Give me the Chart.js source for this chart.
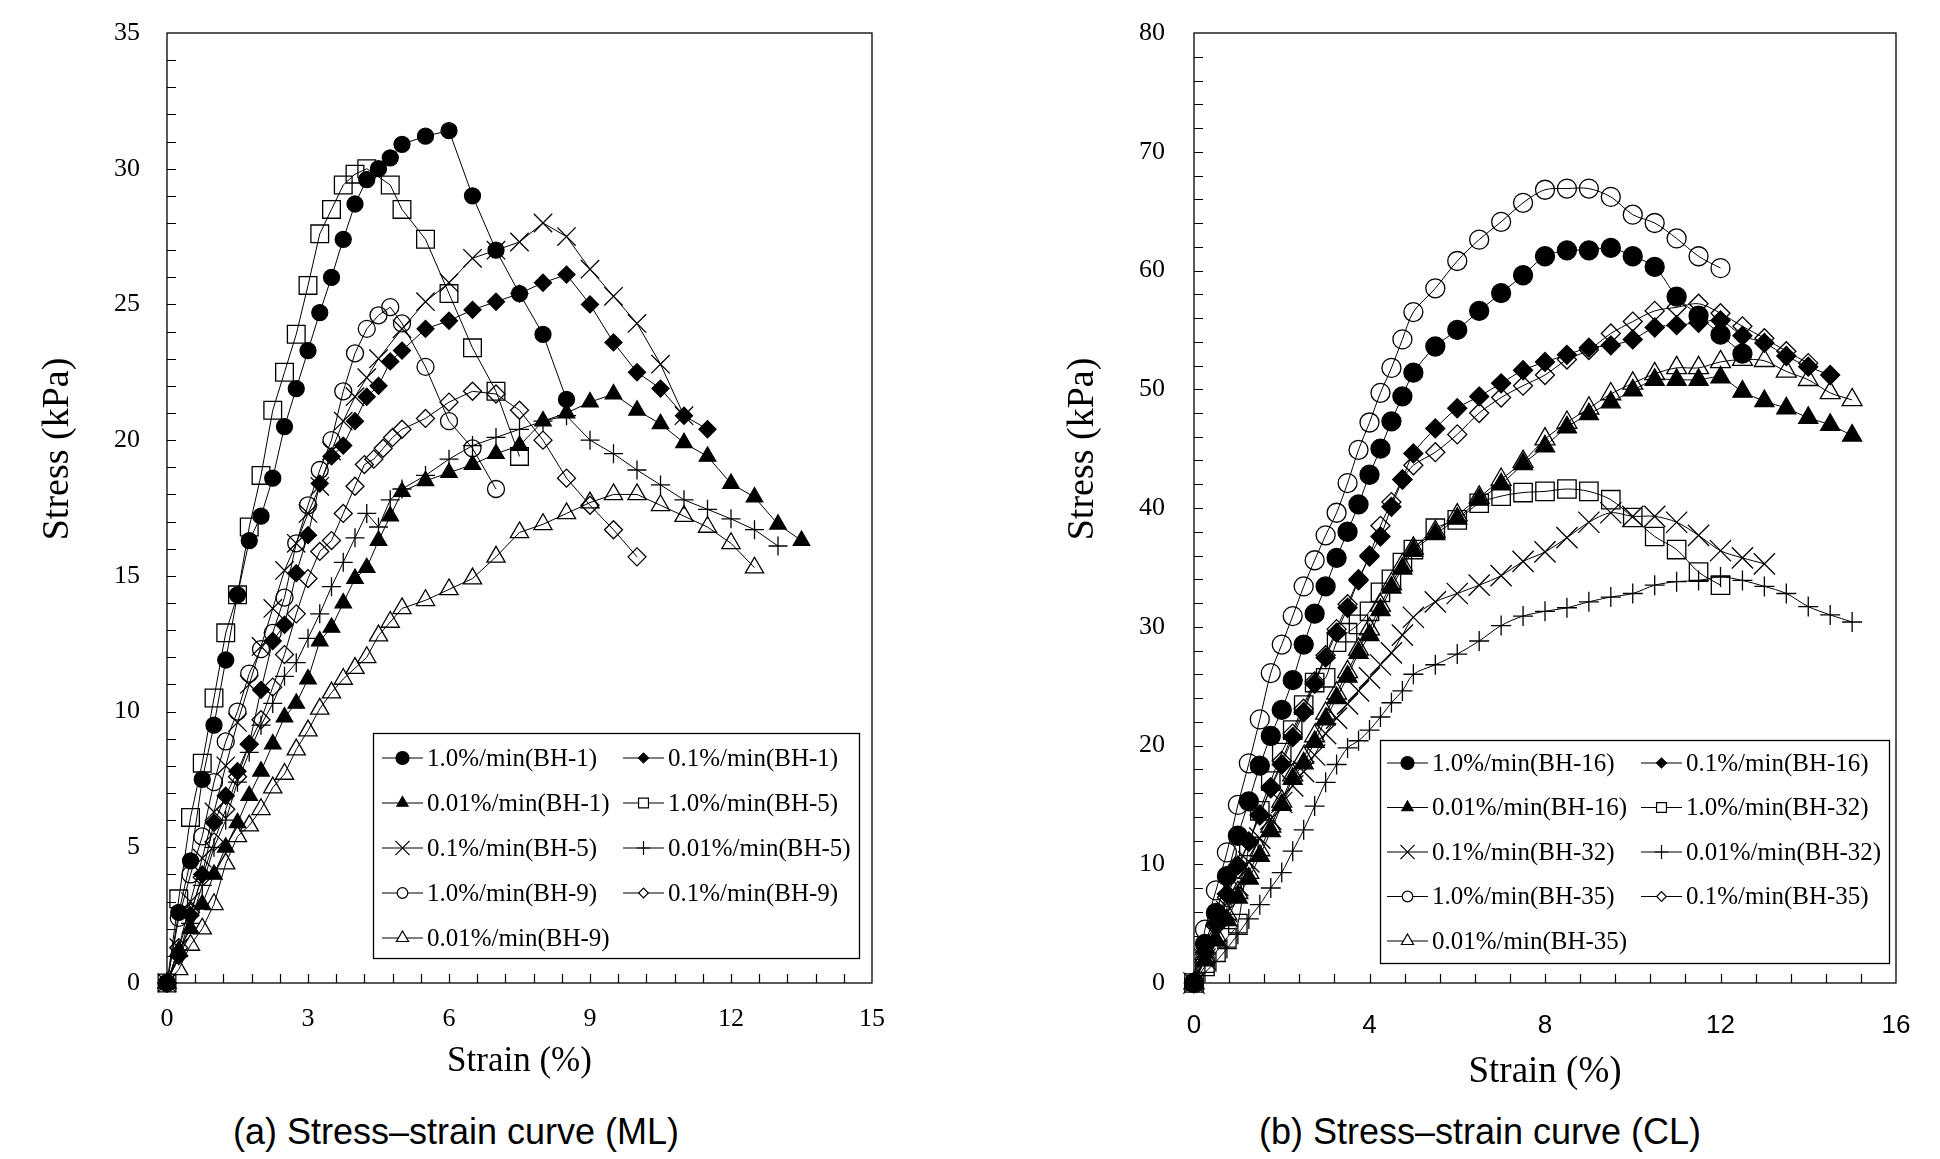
<!DOCTYPE html>
<html lang="en">
<head>
<meta charset="UTF-8">
<title>Stress-strain curves (ML / CL)</title>
<script src="https://cdn.jsdelivr.net/npm/chart.js"></script>
<style>
    body { margin: 0; background: #fff; width: 1940px; height: 1159px; position: relative; overflow: hidden; }
    .panel { position: absolute; top: 0; }
    .caption { position: absolute; top: 1110px; font-family: "Liberation Sans", Arial, sans-serif; font-size: 36px; color: #000; white-space: nowrap; transform: translateX(-50%); line-height: 44px; }
</style>
</head>
<body>
<canvas id="chartML" class="panel" style="left:0" width="970" height="1100"></canvas>
<canvas id="chartCL" class="panel" style="left:970px" width="970" height="1100"></canvas>
<div class="caption" style="left:456px">(a) Stress–strain curve (ML)</div>
<div class="caption" style="left:1480px">(b) Stress–strain curve (CL)</div>
<script>
const SERIF = '"Liberation Serif", "Times New Roman", serif';
const SANS = '"Liberation Sans", Arial, sans-serif';

// ---------- (a) ML : strain (%) / stress (kPa) ----------
const mlNames = ['1.0%/min(BH-1)', '0.1%/min(BH-1)', '0.01%/min(BH-1)', '1.0%/min(BH-5)', '0.1%/min(BH-5)',
                 '0.01%/min(BH-5)', '1.0%/min(BH-9)', '0.1%/min(BH-9)', '0.01%/min(BH-9)'];

const bh1FastX = [0,0.25,0.5,0.75,1,1.25,1.5,1.75,2,2.25,2.5,2.75,3,3.25,3.5,3.75,4,4.25,4.5,4.75,5,5.5,6,6.5,7,7.5,8,8.5];
const bh1FastY = [0,2.6,4.5,7.5,9.5,11.9,14.3,16.3,17.2,18.6,20.5,21.9,23.3,24.7,26.0,27.4,28.7,29.6,30.0,30.4,30.9,31.2,31.4,29.0,27.0,25.4,23.9,21.5];

const bh1MidX = [0,0.25,0.5,0.75,1,1.25,1.5,1.75,2,2.25,2.5,2.75,3,3.25,3.5,3.75,4,4.25,4.5,4.75,5,5.5,6,6.5,7,7.5,8,8.5,9,9.5,10,10.5,11,11.5];
const bh1MidY = [0,1.0,2.5,4.0,5.9,6.9,7.8,8.8,10.8,12.6,13.2,15.1,16.5,18.4,19.4,19.8,20.7,21.6,22.0,22.9,23.3,24.1,24.4,24.8,25.1,25.4,25.8,26.1,25.0,23.6,22.5,21.9,20.9,20.4];

const bh1SlowX = [0,0.25,0.5,0.75,1,1.25,1.5,1.75,2,2.25,2.5,2.75,3,3.25,3.5,3.75,4,4.25,4.5,4.75,5,5.5,6,6.5,7,7.5,8,8.5,9,9.5,10,10.5,11,11.5,12,12.5,13,13.5];
const bh1SlowY = [0,1.2,2.0,2.9,4.0,5.0,5.9,6.9,7.8,8.8,9.8,10.3,11.2,12.6,13.1,14.0,14.9,15.3,16.3,17.2,18.1,18.5,18.8,19.1,19.5,19.8,20.7,21.0,21.4,21.7,21.1,20.6,19.9,19.4,18.4,17.9,16.9,16.3];

const bh5FastX = [0,0.25,0.5,0.75,1,1.25,1.5,1.75,2,2.25,2.5,2.75,3,3.25,3.5,3.75,4,4.25,4.75,5,5.5,6,6.5,7,7.5];
const bh5FastY = [0,3.1,6.1,8.1,10.5,12.9,14.3,16.8,18.7,21.1,22.5,23.9,25.7,27.6,28.5,29.4,29.8,30.0,29.4,28.5,27.4,25.4,23.4,21.8,19.4];

const bh5MidX = [0,0.25,0.5,0.75,1,1.25,1.5,1.75,2,2.25,2.5,2.75,3,3.25,3.5,3.75,4,4.25,4.5,5,5.5,6,6.5,7,7.5,8,8.5,9,9.5,10,10.5,11];
const bh5MidY = [0,1.3,3.0,4.6,6.3,8.0,9.6,11.0,12.4,13.8,15.2,16.2,17.3,18.3,19.6,20.7,21.6,22.3,23.0,24.1,25.1,25.8,26.7,27.0,27.3,28.0,27.5,26.3,25.3,24.3,22.8,20.9];

const bh5SlowX = [0,0.25,0.5,0.75,1,1.25,1.5,1.75,2,2.25,2.5,2.75,3,3.25,3.5,3.75,4,4.25,4.5,4.75,5,5.5,6,6.5,7,7.5,8,8.5,9,9.5,10,10.5,11,11.5,12,12.5,13];
const bh5SlowY = [0,1.0,2.2,3.6,5.0,6.0,7.4,8.5,9.5,10.3,11.3,11.8,12.7,13.6,14.6,15.5,16.4,17.3,16.8,17.8,18.2,18.7,19.3,19.8,20.1,20.4,20.7,20.9,20.0,19.5,18.9,18.35,17.8,17.45,17.1,16.7,16.1];

const bh9FastX = [0,0.25,0.5,0.75,1,1.25,1.5,1.75,2,2.25,2.5,2.75,3,3.25,3.5,3.75,4,4.25,4.5,4.75,5,5.5,6,6.5,7];
const bh9FastY = [0,2.4,4.0,5.4,7.4,8.9,10.0,11.4,12.3,12.9,14.2,16.2,17.6,18.9,20.0,21.8,23.2,24.1,24.6,24.9,24.3,22.7,20.7,19.7,18.2];

const bh9MidX = [0,0.25,0.5,0.75,1,1.25,1.5,1.75,2,2.25,2.5,2.75,3,3.25,3.5,3.75,4,4.2,4.4,4.6,4.8,5,5.5,6,6.5,7,7.5,8,8.5,9,9.5,10];
const bh9MidY = [0,1.3,2.6,3.9,5.2,6.4,7.6,8.8,9.7,10.9,12.1,13.6,14.9,15.9,16.3,17.3,18.3,19.1,19.3,19.7,20.1,20.4,20.8,21.4,21.8,21.7,21.1,20.0,18.6,17.6,16.7,15.7];

const bh9SlowX = [0,0.25,0.5,0.75,1,1.25,1.5,1.75,2,2.25,2.5,2.75,3,3.25,3.5,3.75,4,4.25,4.5,4.75,5,5.5,6,6.5,7,7.5,8,8.5,9,9.5,10,10.5,11,11.5,12,12.5];
const bh9SlowY = [0,0.5,1.4,2.0,2.9,4.4,5.4,5.8,6.4,7.2,7.7,8.6,9.3,10.1,10.7,11.2,11.6,12.0,12.8,13.3,13.8,14.1,14.5,14.9,15.7,16.6,16.9,17.3,17.7,18.0,18.0,17.6,17.2,16.8,16.2,15.3];

// ---------- (b) CL ----------
const clNames = ['1.0%/min(BH-16)', '0.1%/min(BH-16)', '0.01%/min(BH-16)', '1.0%/min(BH-32)', '0.1%/min(BH-32)',
                 '0.01%/min(BH-32)', '1.0%/min(BH-35)', '0.1%/min(BH-35)', '0.01%/min(BH-35)'];

const bh16FastX = [0,0.25,0.5,0.75,1,1.25,1.5,1.75,2,2.25,2.5,2.75,3,3.25,3.5,3.75,4,4.25,4.5,4.75,5,5.5,6,6.5,7,7.5,8,8.5,9,9.5,10,10.5,11,11.5,12,12.5];
const bh16FastY = [0,3.3,5.9,9.0,12.4,15.3,18.3,20.8,23.0,25.5,28.5,31.1,33.4,35.8,38.0,40.3,42.8,45.0,47.3,49.4,51.4,53.6,55.0,56.6,58.1,59.6,61.2,61.7,61.7,61.9,61.2,60.3,57.8,56.2,54.6,53.0];

const bh16MidX = [0,0.25,0.5,0.75,1,1.25,1.5,1.75,2,2.25,2.5,2.75,3,3.25,3.5,3.75,4,4.25,4.5,4.75,5,5.5,6,6.5,7,7.5,8,8.5,9,9.5,10,10.5,11,11.5,12,12.5,13,13.5,14,14.5];
const bh16MidY = [0,2.6,5.0,7.5,9.9,11.9,14.1,16.4,18.4,20.7,22.8,25.2,27.4,29.5,31.6,33.9,35.9,37.6,40.1,42.4,44.6,46.7,48.4,49.4,50.5,51.6,52.3,52.9,53.5,53.7,54.2,55.2,55.4,55.6,55.8,54.5,53.9,52.8,51.9,51.2];

const bh16SlowX = [0,0.25,0.5,0.75,1,1.25,1.5,1.75,2,2.25,2.5,2.75,3,3.25,3.5,3.75,4,4.25,4.5,4.75,5,5.5,6,6.5,7,7.5,8,8.5,9,9.5,10,10.5,11,11.5,12,12.5,13,13.5,14,14.5,15];
const bh16SlowY = [0,1.9,3.6,5.3,7.2,8.8,10.7,12.8,15.0,17.2,18.5,20.3,22.2,24.0,25.8,27.8,29.3,31.4,33.3,34.9,36.4,37.8,39.1,40.7,42.0,43.7,45.2,46.8,47.9,48.9,49.9,50.8,50.8,50.8,51.0,49.8,49.0,48.4,47.6,47.0,46.1];

const bh32FastX = [0,0.25,0.5,0.75,1,1.25,1.5,1.75,2,2.25,2.5,2.75,3,3.25,3.5,3.75,4,4.25,4.5,4.75,5,5.5,6,6.5,7,7.5,8,8.5,9,9.5,10,10.5,11,11.5,12];
const bh32FastY = [0,1.4,2.6,3.8,5.0,11.5,14.5,17.0,19.4,21.3,23.4,25.3,25.7,28.7,29.5,30.2,31.3,32.9,34.0,35.4,36.5,38.3,39.0,40.4,41.0,41.3,41.4,41.6,41.4,40.7,39.2,37.6,36.5,34.6,33.5];

const bh32MidX = [0,0.25,0.5,0.75,1,1.25,1.5,1.75,2,2.25,2.5,2.75,3,3.25,3.5,3.75,4,4.25,4.5,4.75,5,5.5,6,6.5,7,7.5,8,8.5,9,9.5,10,10.5,11,11.5,12,12.5,13];
const bh32MidY = [0,2.0,4.0,6.0,8.2,10.2,12.2,13.8,15.2,16.6,17.8,19.2,21.0,22.3,23.5,24.6,25.7,26.8,27.8,29.3,30.8,32.1,32.8,33.5,34.3,35.5,36.3,37.5,38.8,39.6,39.3,39.3,38.8,37.7,36.4,35.8,35.3];

const bh32SlowX = [0,0.25,0.5,0.75,1,1.25,1.5,1.75,2,2.25,2.5,2.75,3,3.25,3.5,3.75,4,4.25,4.5,4.75,5,5.5,6,6.5,7,7.5,8,8.5,9,9.5,10,10.5,11,11.5,12,12.5,13,13.5,14,14.5,15];
const bh32SlowY = [0,0.9,1.8,2.9,4.1,5.4,6.6,8.0,9.3,11.1,12.9,14.9,16.9,18.4,19.8,20.4,21.3,22.4,23.6,24.6,26.0,26.8,27.7,28.8,30.1,30.9,31.3,31.6,32.1,32.5,32.8,33.5,33.8,33.9,34.2,33.9,33.4,32.8,31.7,31.0,30.4];

const bh35FastX = [0,0.25,0.5,0.75,1,1.25,1.5,1.75,2,2.25,2.5,2.75,3,3.25,3.5,3.75,4,4.25,4.5,4.75,5,5.5,6,6.5,7,7.5,8,8.5,9,9.5,10,10.5,11,11.5,12];
const bh35FastY = [0,4.5,7.8,11.0,15.0,18.5,22.2,26.1,28.5,30.9,33.4,35.6,37.7,39.6,42.1,44.9,47.2,49.7,51.8,54.2,56.5,58.5,60.8,62.6,64.1,65.7,66.8,66.9,66.9,66.2,64.7,64.0,62.7,61.2,60.2];

const bh35MidX = [0,0.25,0.5,0.75,1,1.25,1.5,1.75,2,2.25,2.5,2.75,3,3.25,3.5,3.75,4,4.25,4.5,4.75,5,5.5,6,6.5,7,7.5,8,8.5,9,9.5,10,10.5,11,11.5,12,12.5,13,13.5,14];
const bh35MidY = [0,2.4,4.8,7.2,9.6,11.9,14.2,16.5,18.7,21.0,23.1,25.4,27.6,29.8,31.9,34.0,36.0,38.5,40.5,42.4,43.6,44.7,46.2,48.0,49.3,50.3,51.2,52.5,53.3,54.7,55.7,56.6,56.9,57.2,56.4,55.3,54.3,53.2,52.2];

const bh35SlowX = [0,0.25,0.5,0.75,1,1.25,1.5,1.75,2,2.25,2.5,2.75,3,3.25,3.5,3.75,4,4.25,4.5,4.75,5,5.5,6,6.5,7,7.5,8,8.5,9,9.5,10,10.5,11,11.5,12,12.5,13,13.5,14,14.5,15];
const bh35SlowY = [0,2.2,4.0,5.8,7.6,9.3,11.2,13.2,15.3,17.5,19.0,20.8,22.7,24.4,26.2,28.1,29.8,31.8,33.6,35.2,36.6,38.0,39.4,40.9,42.4,43.9,45.8,47.2,48.4,49.6,50.5,51.3,51.8,51.8,52.3,52.5,52.4,51.5,50.8,49.7,49.1];

// marker look per legend slot (same order in both panels)
const markerStyles = [
    { style: 'circle',   filled: true,  r: [8, 9.5],    lr: 6.5 },
    { style: 'rectRot',  filled: true,  r: [8.5, 9.5],  lr: 5 },
    { style: 'triangle', filled: true,  r: [9.5, 11],   lr: 6.5 },
    { style: 'rect',     filled: false, r: [12.5, 13],  lr: 7 },
    { style: 'crossRot', filled: false, r: [13, 15],    lr: 10 },
    { style: 'cross',    filled: false, r: [9.5, 10],   lr: 7 },
    { style: 'circle',   filled: false, r: [8.5, 9.5],  lr: 5.3 },
    { style: 'rectRot',  filled: false, r: [9, 9.5],    lr: 4.8 },
    { style: 'triangle', filled: false, r: [10.5, 11.5], lr: 7 }
];

function pts(xs, ys) { return xs.map((x, i) => ({ x: x, y: ys[i] })); }

function makeSets(names, xs, ys, panel, tension) {
    return names.map((name, i) => {
        const m = markerStyles[i];
        return {
            label: name,
            data: pts(xs[i], ys[i]),
            showLine: true,
            tension: tension,
            borderColor: '#000',
            borderWidth: 1,
            pointStyle: m.style,
            pointRadius: m.r[panel],
            pointHoverRadius: m.r[panel],
            pointBorderWidth: 1.3,
            pointBorderColor: '#000',
            pointBackgroundColor: m.filled ? '#000' : 'rgba(0,0,0,0)',
            clip: false
        };
    });
}

// box round the plot area plus inside tick marks (major and minor)
const boxTicks = {
    id: 'boxTicks',
    beforeDatasetsDraw(chart, args, o) {
        const { ctx, chartArea: a } = chart;
        const sx = chart.scales.x, sy = chart.scales.y;
        ctx.save();
        ctx.strokeStyle = '#000';
        ctx.lineWidth = 1.3;
        ctx.strokeRect(a.left, a.top, a.right - a.left, a.bottom - a.top);
        ctx.lineWidth = 1.2;
        ctx.beginPath();
        for (let v = sx.min + o.xMinor; v < sx.max - 1e-6; v += o.xMinor) {
            const px = Math.round(sx.getPixelForValue(v)) + 0.5;
            ctx.moveTo(px, a.bottom); ctx.lineTo(px, a.bottom - o.len);
        }
        for (let v = sy.min + o.yMinor; v < sy.max - 1e-6; v += o.yMinor) {
            const py = Math.round(sy.getPixelForValue(v)) + 0.5;
            ctx.moveTo(a.left, py); ctx.lineTo(a.left + o.len, py);
        }
        ctx.stroke();
        ctx.restore();
    }
};

// vertical axis title, placed a little above the middle of the plot like the source
const yTitle = {
    id: 'yTitle',
    afterDraw(chart, args, o) {
        const ctx = chart.ctx;
        ctx.save();
        ctx.translate(o.x, o.y);
        ctx.rotate(-Math.PI / 2);
        ctx.font = o.font;
        ctx.fillStyle = '#000';
        ctx.textAlign = 'center';
        ctx.textBaseline = 'middle';
        ctx.fillText(o.text, 0, 0);
        ctx.restore();
    }
};

// boxed two-column legend with line + marker samples
const boxLegend = {
    id: 'boxLegend',
    afterDraw(chart, args, o) {
        const ctx = chart.ctx;
        ctx.save();
        ctx.fillStyle = '#fff';
        ctx.fillRect(o.x, o.y, o.w, o.h);
        ctx.strokeStyle = '#000';
        ctx.lineWidth = 1.3;
        ctx.strokeRect(o.x + 0.5, o.y + 0.5, o.w, o.h);
        ctx.font = o.font;
        ctx.textBaseline = 'middle';
        ctx.textAlign = 'left';
        chart.data.datasets.forEach((ds, i) => {
            const m = markerStyles[i];
            const col = i % 2, row = Math.floor(i / 2);
            const lx = o.cols[col], ly = o.row0 + row * o.rowGap;
            ctx.strokeStyle = '#000';
            ctx.lineWidth = 1.2;
            ctx.beginPath();
            ctx.moveTo(lx, ly); ctx.lineTo(lx + o.lineLen, ly);
            ctx.stroke();
            ctx.fillStyle = m.filled ? '#000' : '#fff';
            Chart.helpers.drawPoint(ctx, { pointStyle: m.style, radius: m.lr, rotation: 0, borderWidth: 1.2 }, lx + o.lineLen / 2, ly);
            ctx.fillStyle = '#000';
            ctx.fillText(ds.label, lx + o.lineLen + o.gap, ly + 1);
        });
        ctx.restore();
    }
};

function axisOpts(min, max, step, tickFont, tickPad, title, fitSize, horizontal) {
    return {
        type: 'linear', min: min, max: max,
        ticks: { stepSize: step, font: tickFont, color: '#000', padding: tickPad, maxRotation: 0, autoSkip: false },
        grid: { display: false, drawTicks: false },
        border: { display: false },
        title: title,
        afterFit: s => {
            // fixed axis band; label overhang must not push the plot area inwards
            if (horizontal) { s.height = fitSize; s.paddingLeft = 0; s.paddingRight = 0; }
            else { s.width = fitSize; s.paddingTop = 0; s.paddingBottom = 0; }
        }
    };
}

new Chart(document.getElementById('chartML'), {
    type: 'scatter',
    data: {
        datasets: makeSets(mlNames,
            [bh1FastX, bh1MidX, bh1SlowX, bh5FastX, bh5MidX, bh5SlowX, bh9FastX, bh9MidX, bh9SlowX],
            [bh1FastY, bh1MidY, bh1SlowY, bh5FastY, bh5MidY, bh5SlowY, bh9FastY, bh9MidY, bh9SlowY], 0, 0)
    },
    options: {
        responsive: false, animation: false, devicePixelRatio: 1,
        layout: { padding: { left: 0, top: 33, right: 98, bottom: 0 } },
        plugins: {
            legend: { display: false }, tooltip: { enabled: false },
            boxTicks: { xMinor: 0.6, yMinor: 1, len: 9 },
            yTitle: { text: 'Stress (kPa)', x: 58, y: 449, font: '38px ' + SERIF },
            boxLegend: { x: 373, y: 733, w: 486, h: 225, cols: [382, 623], row0: 758, rowGap: 45,
                         lineLen: 41, gap: 4, font: '25px ' + SERIF }
        },
        scales: {
            x: axisOpts(0, 15, 3, { family: SERIF, size: 26 }, 21,
                { display: true, text: 'Strain (%)', font: { family: SERIF, size: 35 }, color: '#000', padding: { top: 0, bottom: 17 } }, 117, true),
            y: axisOpts(0, 35, 5, { family: SERIF, size: 26 }, 27, { display: false }, 167, false)
        }
    },
    plugins: [boxTicks, yTitle, boxLegend]
});

new Chart(document.getElementById('chartCL'), {
    type: 'scatter',
    data: {
        datasets: makeSets(clNames,
            [bh16FastX, bh16MidX, bh16SlowX, bh32FastX, bh32MidX, bh32SlowX, bh35FastX, bh35MidX, bh35SlowX],
            [bh16FastY, bh16MidY, bh16SlowY, bh32FastY, bh32MidY, bh32SlowY, bh35FastY, bh35MidY, bh35SlowY], 1, 0.3)
    },
    options: {
        responsive: false, animation: false, devicePixelRatio: 1,
        layout: { padding: { left: 0, top: 33, right: 44, bottom: 0 } },
        plugins: {
            legend: { display: false }, tooltip: { enabled: false },
            boxTicks: { xMinor: 0.8, yMinor: 2, len: 9 },
            yTitle: { text: 'Stress (kPa)', x: 113, y: 449, font: '38px ' + SERIF },
            boxLegend: { x: 410, y: 740, w: 509, h: 223, cols: [417, 671], row0: 763, rowGap: 44.5,
                         lineLen: 41, gap: 4, font: '25px ' + SERIF }
        },
        scales: {
            x: axisOpts(0, 16, 4, { family: SANS, size: 26 }, 27,
                { display: true, text: 'Strain (%)', font: { family: SERIF, size: 37 }, color: '#000', padding: { top: 0, bottom: 6 } }, 117, true),
            y: axisOpts(0, 80, 10, { family: SERIF, size: 26 }, 29, { display: false }, 224, false)
        }
    },
    plugins: [boxTicks, yTitle, boxLegend]
});
</script>
</body>
</html>
